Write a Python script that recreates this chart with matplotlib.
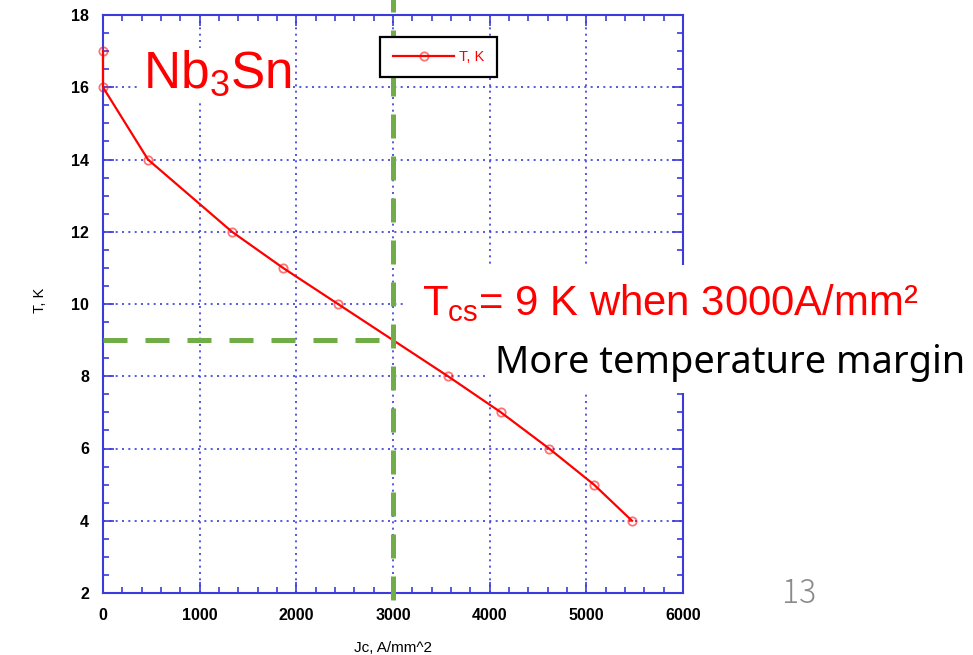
import matplotlib
matplotlib.use("Agg")
import matplotlib.pyplot as plt
from matplotlib.patches import Rectangle

plt.rcParams['mathtext.default'] = 'regular'

# critical current density vs temperature, Nb3Sn
jc = [0, 0, 465, 1334, 1862, 2431, 3569, 4117, 4614, 5079, 5472]
temp = [17, 16, 14, 12, 11, 10, 8, 7, 6, 5, 4]
series_label = 'T, K'

jc_op = 3000   # operating current density, A/mm^2
t_cs = 9       # current sharing temperature, K

x_ticks = [0, 1000, 2000, 3000, 4000, 5000, 6000]
y_ticks = [2, 4, 6, 8, 10, 12, 14, 16, 18]

W, H = 973, 655
fig = plt.figure(figsize=(W / 100, H / 100), dpi=100)

def px(x0, y0, x1, y1):
    # pixel box -> figure fraction rect
    return [x0 / W, 1 - y1 / H, (x1 - x0) / W, (y1 - y0) / H]

blue = '#3b3bdc'
tick_font = 'Liberation Sans'

ax = fig.add_axes(px(103, 15, 683, 593))
ax.set_xlim(0, 6000)
ax.set_ylim(2, 18)
ax.set_xticks(x_ticks)
ax.set_yticks(y_ticks)
ax.set_xticks(range(0, 6001, 200), minor=True)
ax.set_yticks([v / 2 for v in range(4, 37)], minor=True)
ax.grid(True, which='major', color=blue, linestyle=(0, (1.2, 2.6)), linewidth=1.2)
for s in ax.spines.values():
    s.set_color(blue)
    s.set_linewidth(1.5)
ax.tick_params(which='both', direction='in', top=True, right=True, color=blue, width=1.2)
ax.tick_params(which='major', length=8)
ax.tick_params(which='minor', length=4)
ax.tick_params(axis='y', pad=10)
ax.tick_params(axis='x', pad=11)
for lab in ax.get_xticklabels() + ax.get_yticklabels():
    lab.set_family(tick_font)
    lab.set_fontweight('bold')
    lab.set_fontsize(11.5)

ax.plot(jc, temp, color='red', linewidth=1.6, marker='o', markersize=6,
        markerfacecolor='none', markeredgecolor=(1, 0, 0, 0.55), markeredgewidth=1.3,
        label=series_label, zorder=3, clip_on=False)

leg = ax.legend(loc='upper left', bbox_to_anchor=((380 - 103) / 580, (593 - 37) / 578),
                borderaxespad=0, fancybox=False, framealpha=1, edgecolor='black',
                handlelength=4.2, labelcolor='red', prop={'size': 10.5, 'family': tick_font},
                borderpad=0.9, handletextpad=0.3)
leg.get_frame().set_linewidth(1.6)

# operating point guide lines
green = '#70ad47'
ax.plot([0, jc_op], [t_cs, t_cs], color=green, linewidth=3.6,
        dashes=(4.8, 3.6), clip_on=False, zorder=4)
ax.axvline(jc_op, ymin=-0.012, ymax=1.03, color=green, linewidth=3.6,
           dashes=(4.8, 3.6), clip_on=False, zorder=4)

fig.text(40 / W, 1 - 300 / H, 'T, K', rotation=90, ha='center', va='center',
         fontsize=10.5, family=tick_font)
fig.text(393 / W, 1 - 648 / H, 'Jc, A/mm^2', ha='center', va='center',
         fontsize=11, family=tick_font)

# annotation panels
for box in [(403, 265, 973, 343), (485, 343, 973, 393)]:
    fig.patches.append(Rectangle(px(*box)[:2], px(*box)[2], px(*box)[3],
                                 transform=fig.transFigure, facecolor='white',
                                 edgecolor='none', zorder=5))

fig.text(143 / W, 1 - 88 / H, 'Nb$_3$Sn', color='red', fontsize=37,
         family='Liberation Sans', ha='left', va='baseline', zorder=6,
         bbox=dict(facecolor='white', edgecolor='none', pad=1))
fig.text(422 / W, 1 - 315 / H, 'T$_{cs}$= 9 K when 3000A/mm\u00b2', color='red',
         fontsize=30.2, family='Liberation Sans', ha='left', va='baseline', zorder=6)
fig.text(495 / W, 1 - 373 / H, 'More temperature margin', color='black',
         fontsize=27.3, family='Noto Sans', ha='left', va='baseline', zorder=6)
fig.text(799 / W, 1 - 594 / H, '13', color='#8a8a8a', fontsize=23,
         family='Noto Sans CJK JP', fontweight='light', ha='center', va='center', zorder=6)

fig.savefig('out.png', dpi=100)
